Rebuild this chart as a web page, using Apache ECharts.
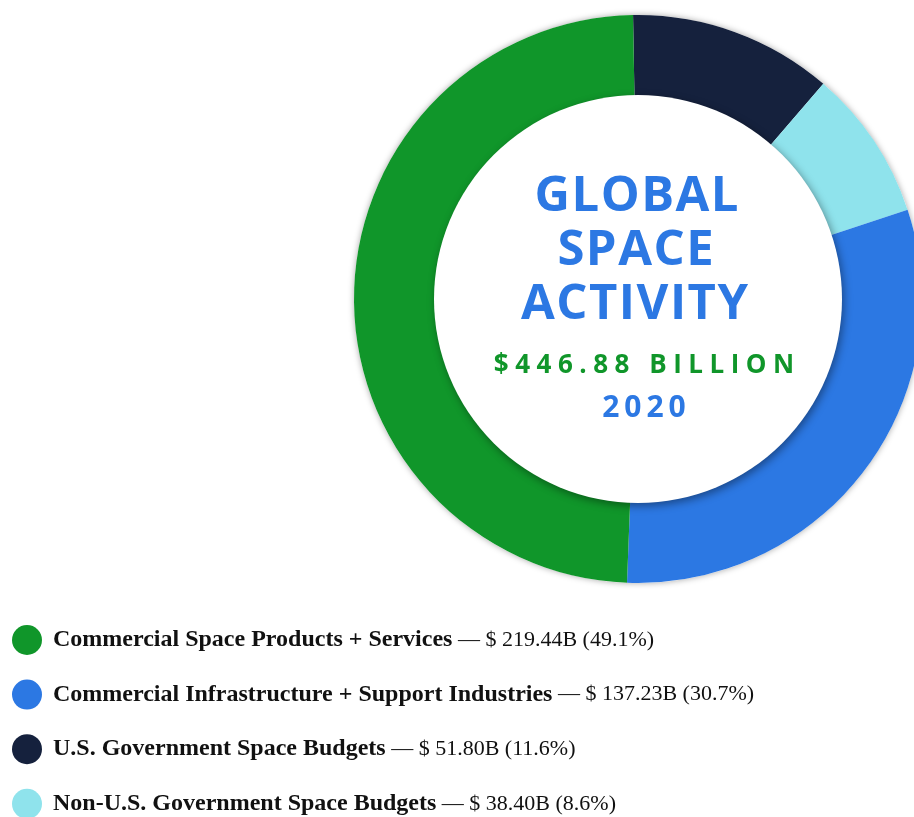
<!DOCTYPE html>
<html>
<head>
<meta charset="utf-8">
<title>Global Space Activity 2020</title>
<script src="https://cdn.jsdelivr.net/npm/echarts@6/dist/echarts.min.js"></script>
<style>
  html, body { margin: 0; padding: 0; background: #ffffff; }
  #chart { width: 914px; height: 817px; }
</style>
</head>
<body>
<div id="chart"></div>
<script>
// Segments of global space activity, 2020 (billions of US dollars)
const categories = [
  'Commercial Space Products + Services',
  'Commercial Infrastructure + Support Industries',
  'U.S. Government Space Budgets',
  'Non-U.S. Government Space Budgets'
];
const valuesB = [219.44, 137.23, 51.80, 38.40];
const sharePct = ['49.1', '30.7', '11.6', '8.6'];
const colors = ['#10962A', '#2C78E3', '#15213D', '#8FE3EC'];
// clockwise from twelve o'clock
const ringOrder = [2, 3, 1, 0];

const titleLines = ['GLOBAL', 'SPACE', 'ACTIVITY'];
const totalText = '$446.88 BILLION';
const yearText = '2020';

// ring geometry
const CX = 638, CY = 299, R_OUT = 284, R_IN = 204;

const FOUR_PER_EM = '\u2005', THIN = '\u2009';
const spaced = (s, sep) => Array.from(s).join(sep);
// one rich token per character so each letter can carry its own padding (tracking)
const tracked = (s, key) => Array.from(s).map(c => '{' + key + '|' + c + '}').join('');

const chart = echarts.init(document.getElementById('chart'), null, { renderer: 'canvas' });

const ringData = ringOrder.map(i => ({
  name: categories[i],
  value: valuesB[i],
  itemStyle: { color: colors[i] }
}));

const headingRich = {
  h: {
    fontFamily: '"Open Sans", sans-serif', fontWeight: 'bold', fontSize: 49,
    fill: '#2C78E3', padding: [0, 0.75, 0, 0.75]
  }
};
const headingText = (s, y, dx) => ({
  type: 'text', z: 10, x: CX + dx, y: y,
  style: { text: tracked(s, 'h'), rich: headingRich, fill: '#2C78E3', align: 'center', verticalAlign: 'middle' }
});
const plainText = (text, size, color, y, dx) => ({
  type: 'text', z: 10, x: CX + dx, y: y,
  style: {
    text: text, fill: color,
    font: 'bold ' + size + 'px "Open Sans", sans-serif',
    align: 'center', verticalAlign: 'middle'
  }
});

const option = {
  backgroundColor: '#ffffff',
  animation: false,
  legend: {
    orient: 'vertical',
    left: 12,
    top: 625,
    height: 260,
    padding: 0,
    icon: 'circle',
    itemWidth: 42,
    itemHeight: 30,
    itemGap: 24.6,
    selectedMode: false,
    data: categories,
    formatter: name => {
      const i = categories.indexOf(name);
      return '{b|' + name + '}{n| \u2014 $ ' + valuesB[i].toFixed(2) + 'B (' + sharePct[i] + '%)}';
    },
    textStyle: {
      rich: {
        b: { fontFamily: '"Liberation Serif", serif', fontWeight: 'bold', fontSize: 24, color: '#111111', lineHeight: 30 },
        n: { fontFamily: '"Liberation Serif", serif', fontWeight: 'normal', fontSize: 22, color: '#111111', lineHeight: 30 }
      }
    }
  },
  series: [
    {
      // soft shadow behind the ring
      type: 'pie',
      silent: true,
      z: 1,
      center: [CX, CY],
      radius: [R_IN - 10, R_OUT],
      label: { show: false },
      labelLine: { show: false },
      emphasis: { disabled: true },
      data: [{ value: 1, name: '', itemStyle: {
        color: '#ffffff', shadowBlur: 6, shadowColor: 'rgba(0,0,0,0.35)'
      } }]
    },
    {
      type: 'pie',
      z: 2,
      center: [CX, CY],
      radius: [R_IN - 10, R_OUT],
      startAngle: 91,
      clockwise: true,
      label: { show: false },
      labelLine: { show: false },
      emphasis: { disabled: true },
      itemStyle: { borderWidth: 0 },
      data: ringData
    },
    {
      // white centre disc with drop shadow
      type: 'pie',
      silent: true,
      z: 3,
      center: [CX, CY],
      radius: [0, R_IN],
      label: { show: false },
      labelLine: { show: false },
      emphasis: { disabled: true },
      data: [{ value: 1, name: '', itemStyle: {
        color: '#ffffff', shadowBlur: 8, shadowOffsetX: 2, shadowOffsetY: 3,
        shadowColor: 'rgba(0,0,0,0.4)'
      } }]
    }
  ],
  graphic: [
    headingText(titleLines[0], 197, -1.5),
    headingText(titleLines[1], 251, -2.5),
    headingText(titleLines[2], 305, -3.5),
    plainText(spaced(totalText, FOUR_PER_EM), 26, '#10962A', 366, 6),
    plainText(spaced(yearText, THIN), 30, '#2C78E3', 408, 6)
  ]
};

chart.setOption(option);
</script>
</body>
</html>
